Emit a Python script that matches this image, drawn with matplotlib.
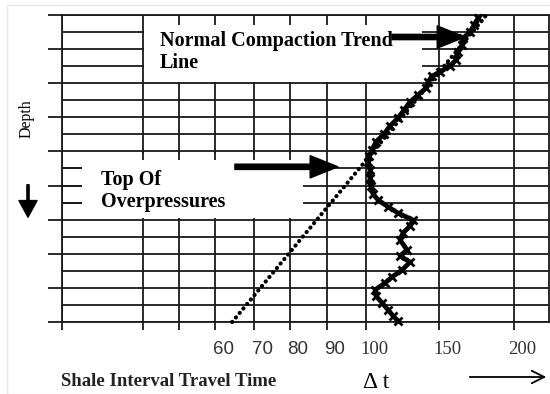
import numpy as np
import matplotlib
matplotlib.use("Agg")
import matplotlib.pyplot as plt
import matplotlib.patches as patches
import matplotlib.transforms as mtransforms

# shale interval travel time (x) against depth (y, grid-line units, increasing downward)
depth = [0.18, 0.59, 1.0, 1.35, 1.76, 2.17, 2.64, 2.99, 3.34, 3.58, 3.93, 4.28, 4.69,
         5.10, 5.57, 6.04, 6.51, 6.98, 7.44, 7.91, 8.27, 8.62, 9.09, 9.55, 10.02, 10.49,
         10.84, 11.25, 11.61, 12.02, 12.37, 12.78, 13.19, 13.77, 14.13, 14.48, 14.95,
         15.36, 15.71, 16.12, 16.47, 16.88, 17.29, 17.64, 17.94]
delta_t = [176, 173.3, 170.7, 166, 165.3, 162.7, 161.3, 157.3, 150.7, 145.2, 142.5, 141.1,
           135.6, 130.1, 126.0, 121.9, 116.4, 112.3, 106.8, 104.1, 102.1, 101.4, 102.7,
           102.7, 103.4, 104.8, 108.2, 115.1, 121.9, 132.2, 130.1, 125.3, 123.3, 128.1,
           123.3, 130.1, 124.7, 117.8, 113.0, 106.2, 106.8, 111.0, 115.1, 118.5, 121.9]

# normal compaction trend line end points
trend_dt = [64.4, 182.7]
trend_depth = [18, -0.12]

tick_vals = [20, 40, 50, 60, 70, 80, 90, 100, 150, 200]
tick_labels = ["", "", "", "60", "70", "80", "90", "100", "150", "200"]

# the chart's x axis is neither linear nor log: piecewise spacing
scale_vals = [0, 20, 40, 50, 60, 70, 80, 90, 100, 150, 200, 300]
scale_pos = [-19, 62, 143, 179, 215, 254, 290, 327, 366, 439, 514, 664]


def fwd(v):
    return np.interp(v, scale_vals, scale_pos)


def inv(p):
    return np.interp(p, scale_pos, scale_vals)


ink = "#1a1a1a"
lw = 1.3

fig = plt.figure(figsize=(5.5, 3.94), dpi=100)
ax = fig.add_axes([62 / 550, 1 - 322 / 394, 487 / 550, 307 / 394])
ax.set_xscale("function", functions=(fwd, inv))
ax.set_xlim(20, 223.3)
ax.set_ylim(18, 0)
ax.set_axisbelow(True)

ax.set_xticks(tick_vals, tick_labels)
ax.xaxis.set_minor_locator(matplotlib.ticker.NullLocator())
ax.set_yticks(range(0, 19, 2))
ax.set_yticks(range(1, 19, 2), minor=True)
ax.set_yticklabels([])
ax.tick_params(axis="y", which="major", length=10, width=lw, color=ink, direction="out")
ax.tick_params(axis="y", which="minor", length=0)
ax.tick_params(axis="x", length=6, width=lw, color=ink, pad=8, labelsize=13.5)
ax.grid(True, which="both", axis="y", color=ink, lw=lw)
ax.grid(True, which="major", axis="x", color=ink, lw=lw)
for s in ax.spines.values():
    s.set_color(ink)
    s.set_linewidth(lw)

offset = mtransforms.ScaledTranslation(8 / 100, 0, fig.dpi_scale_trans)
for lab in ax.get_xticklabels():
    lab.set_transform(lab.get_transform() + offset)
    lab.set_color("#333333")
    if lab.get_text() in ("100", "150", "200"):
        lab.set_family("Liberation Serif")
    else:
        lab.set_family("Liberation Sans")

# blank areas behind the annotation texts
ax.add_patch(patches.Rectangle((40.35, 0.07), 138.4 - 40.35, 3.86, facecolor="white",
                               edgecolor="none", zorder=1))
ax.add_patch(patches.Rectangle((25, 8.07), 83.5 - 25, 3.86, facecolor="white",
                               edgecolor="none", zorder=1))
ax.vlines([50, 60, 70, 80, 90, 100], 0, 0.6, color=ink, lw=lw, zorder=1.2)
ax.vlines([40, 50, 60, 70, 80], 8, 8.5, color=ink, lw=lw, zorder=1.2)
ax.hlines([9, 10, 11], 20, 25, color=ink, lw=lw, zorder=1.2)

# trend line and data
ax.plot(trend_dt, trend_depth, color="black", lw=3.0, ls=(0, (0.05, 1.35)),
        dash_capstyle="round", clip_on=False, zorder=3)
ax.plot(delta_t, depth, color="black", lw=3.4, marker="x", ms=6, mew=2.0,
        clip_on=False, zorder=3)

serif = "Liberation Serif"
fig.text(160 / 550, 1 - 31 / 394, "Normal Compaction Trend\nLine", family=serif,
         weight="bold", fontsize=14.5, va="top", ha="left", linespacing=1.1, zorder=4)
fig.text(101 / 550, 1 - 170 / 394, "Top Of\nOverpressures", family=serif,
         weight="bold", fontsize=14.5, va="top", ha="left", linespacing=1.1, zorder=4)

big = dict(arrowstyle="simple,head_length=2.0,head_width=1.6,tail_width=0.38",
           mutation_scale=10, color="black", shrinkA=0, shrinkB=0)
ax.annotate("", xy=(167.3, 1.29), xytext=(117.8, 1.29), arrowprops=big, zorder=5)
ax.annotate("", xy=(92.8, 8.9), xytext=(65.1, 8.9), arrowprops=big, zorder=5)

fig.text(27 / 550, 1 - 119 / 394, "Depth", family=serif, fontsize=11.5,
         rotation=90, ha="center", va="center")
fig.text(61 / 550, 1 - 382 / 394, "Shale Interval Travel Time", family=serif,
         weight="bold", fontsize=13.5, ha="left", va="center", color="#222222")
fig.text(363 / 550, 1 - 383 / 394, "Δ t", family=serif, fontsize=17,
         ha="left", va="center")

fig.add_artist(patches.FancyArrowPatch((28, 212), (28, 174), transform=None,
               arrowstyle="simple,head_length=1.2,head_width=1.3,tail_width=0.16",
               mutation_scale=10, color="black"))
fig.add_artist(patches.FancyArrowPatch((467, 17), (549, 17), transform=None,
               arrowstyle="->,head_length=0.9,head_width=0.45",
               mutation_scale=10, color="black", lw=1.3))

fig.add_artist(patches.Rectangle((7 / 550, 0), 1, 1 - 5 / 394, transform=fig.transFigure,
                                 fill=False, edgecolor="#e8e8e8", lw=1))

fig.savefig("out.png", dpi=100)
